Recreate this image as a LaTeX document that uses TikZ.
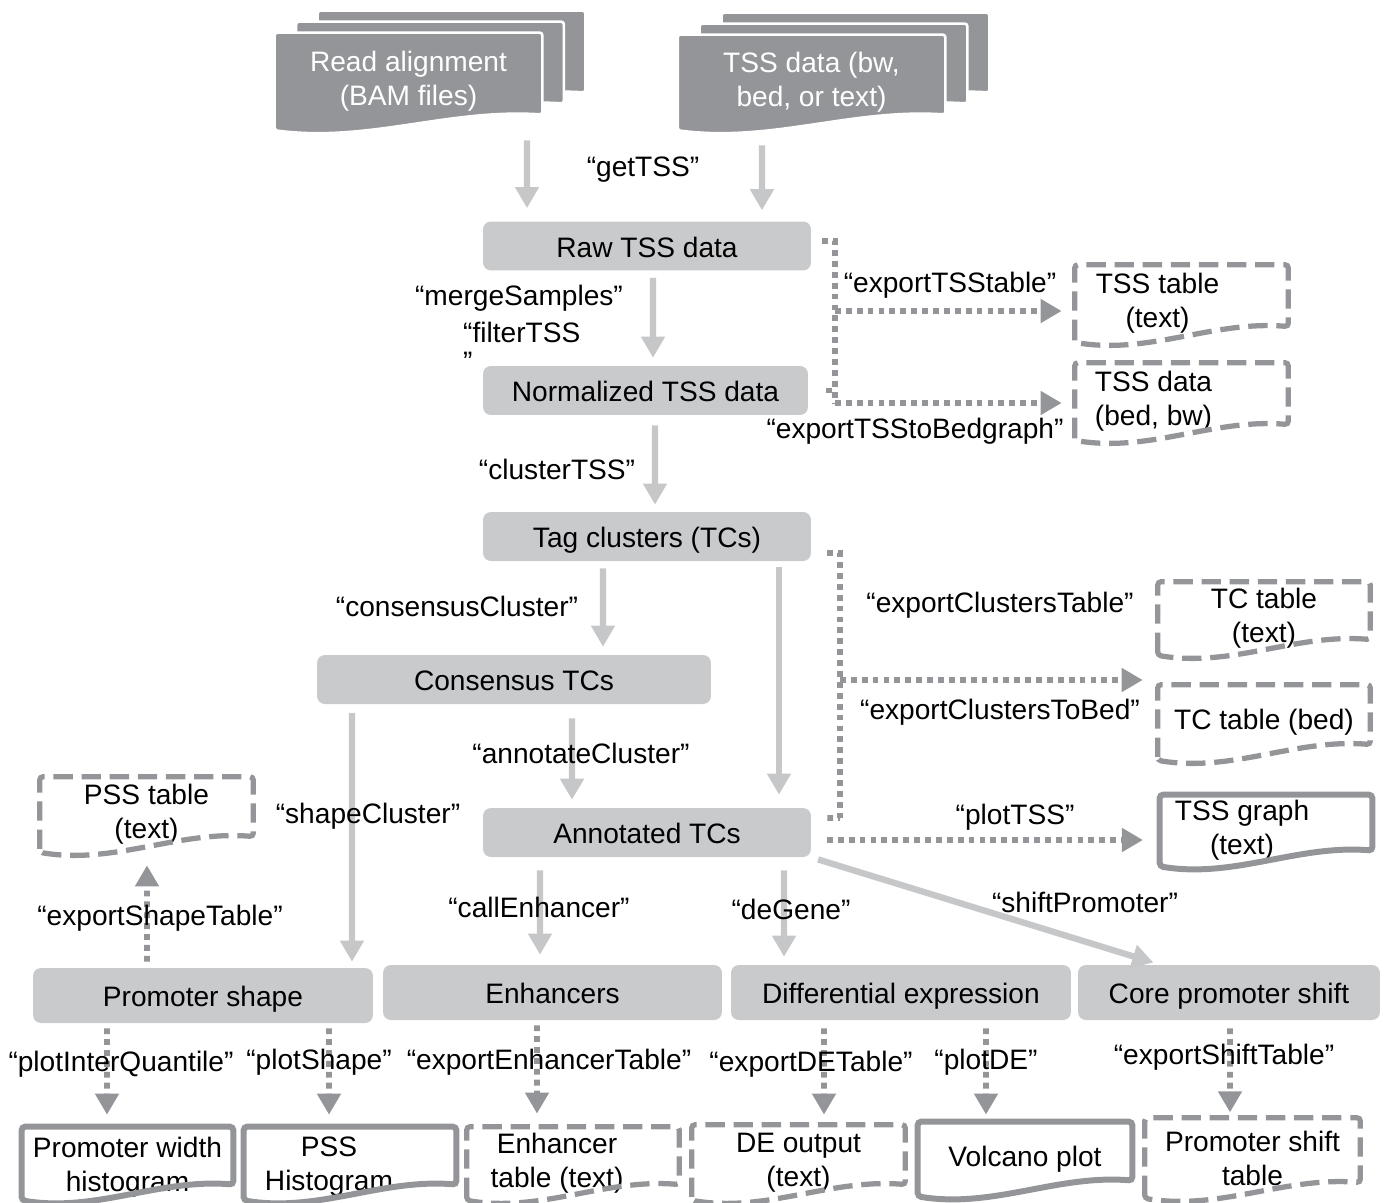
\documentclass[tikz,border=0pt]{standalone}
\usepackage{fontspec}
\setmainfont{Liberation Sans}
\usetikzlibrary{arrows.meta, calc, backgrounds}

\definecolor{pagegray}{HTML}{939598}
\definecolor{boxgray}{HTML}{C9CACC}
\definecolor{arrowgray}{HTML}{C6C7C9}

% document outline with a wavy lower edge, optional shift for stacked pages
\newcommand{\docframe}[3][0pt,0pt]{%
  \draw[#2] ([shift={(#1)}]#3.south west) -- ([shift={(#1)}]#3.north west)
    -- ([shift={(#1)}]#3.north east) -- ([shift={(#1)},yshift=9pt]#3.south east)
    .. controls ($(#3.south west)!0.65!(#3.south east)+(#1)+(0,12.5pt)$)
    and ($(#3.south west)!0.35!(#3.south east)+(#1)+(0,-7pt)$)
    .. ([shift={(#1)}]#3.south west) -- cycle;}

\begin{document}
\begin{tikzpicture}[
  x=0.02cm, y=-0.02cm,
  every node/.style={font=\fontsize{16}{19.3}\selectfont},
  box/.style={fill=boxgray, rounded corners=4.5pt, minimum height=0.98cm, inner sep=0pt,
              text height=16pt, text depth=3.4pt},
  doc/.style={align=center, inner sep=0pt},
  page/.style={fill=pagegray, draw=white, line width=1.5pt, rounded corners=1.5pt},
  framesolid/.style={draw=pagegray, line width=3.4pt, rounded corners=2pt},
  framedash/.style={draw=pagegray, line width=3pt, dash pattern=on 11pt off 5pt, rounded corners=2pt},
  arr/.style={-{Triangle[width=13pt,length=12pt]}, draw=arrowgray, line width=3.6pt},
  dotline/.style={draw=pagegray, line width=3.3pt, dash pattern=on 3.3pt off 2.9pt},
  dotarr/.style={dotline, -{Triangle[width=13pt,length=12pt]}}
]
  \useasboundingbox (0,0) rectangle (1386,1203);

  % input files
  \node[doc, text=white, minimum width=5.34cm, minimum height=1.94cm] (readdoc) at (408.5,81.5)
       {Read alignment\\(BAM files)};
  \node[doc, text=white, minimum width=5.34cm, minimum height=1.9cm] (tssdoc) at (811.5,82.5)
       {TSS data (bw,\\bed, or text)};

  % processing steps
  \node[box, minimum width=6.56cm] (raw)   at (647,246)   {Raw TSS data};
  \node[box, minimum width=6.5cm]  (norm)  at (645.5,390.5) {Normalized TSS data};
  \node[box, minimum width=6.56cm] (tag)   at (647,536.5) {Tag clusters (TCs)};
  \node[box, minimum width=7.88cm] (cons)  at (514,679.5) {Consensus TCs};
  \node[box, minimum width=6.56cm] (annot) at (647,832.5) {Annotated TCs};
  \node[box, minimum width=6.8cm,  minimum height=1.1cm] (prom) at (203,995.5) {Promoter shape};
  \node[box, minimum width=6.78cm, minimum height=1.1cm] (enh)  at (552.5,992.5) {Enhancers};
  \node[box, minimum width=6.8cm,  minimum height=1.1cm] (de)   at (901,992.5) {Differential expression};
  \node[box, minimum width=6.04cm, minimum height=1.1cm] (core) at (1229,992.5) {Core promoter shift};

  % output files (text sits left of centre in some of them)
  \node[doc, minimum width=4.26cm, minimum height=1.54cm,
        label={[align=center, xshift=-0.48cm]center:TSS table\\(text)}] (tsstab) at (1181.5,303.5) {};
  \node[doc, minimum width=4.26cm, minimum height=1.54cm,
        label={[align=center, xshift=-0.56cm]center:TSS data\\(bed, bw)}] (tssbed) at (1181.5,401.5) {};
  \node[doc, minimum width=4.24cm, minimum height=1.46cm] (tctab)    at (1264,618.5) {TC table\\(text)};
  \node[doc, minimum width=4.24cm, minimum height=1.5cm]  (tcbed)    at (1264,722.5) {TC table (bed)};
  \node[doc, minimum width=4.24cm, minimum height=1.42cm,
        label={[align=center, xshift=-0.48cm]center:TSS graph\\(text)}] (tssgraph) at (1266,830.5) {};
  \node[doc, minimum width=4.26cm, minimum height=1.5cm]  (psstab)   at (146.5,814.5) {PSS table\\(text)};
  \node[doc, minimum width=4.22cm, minimum height=1.46cm,
        label={[align=center, yshift=-0.07cm]center:Promoter width\\histogram}] (pwh) at (127.5,1163.5) {};
  \node[doc, minimum width=4.24cm, minimum height=1.46cm,
        label={[align=center, xshift=-0.42cm, yshift=-0.07cm]center:PSS\\Histogram}] (psshist) at (350,1163.5) {};
  \node[doc, minimum width=4.24cm, minimum height=1.46cm,
        label={[align=center, xshift=-0.32cm]center:Enhancer\\table (text)}] (enhtab) at (573,1163.5) {};
  \node[doc, minimum width=4.26cm, minimum height=1.5cm]  (deout)    at (798.5,1162.5) {DE output\\(text)};
  \node[doc, minimum width=4.28cm, minimum height=1.48cm] (volcano)  at (1025,1159) {Volcano plot};
  \node[doc, minimum width=4.3cm,  minimum height=1.6cm]  (shifttab) at (1252.5,1158) {Promoter shift\\table};

  % stacked pages behind the inputs
  \begin{scope}[on background layer]
    \foreach \k in {2,1}{
      \docframe[\k*0.43cm,\k*0.22cm]{page}{readdoc}
      \docframe[\k*0.44cm,\k*0.22cm]{page}{tssdoc}
    }
    \docframe{page}{readdoc}
    \docframe{page}{tssdoc}
  \end{scope}

  \docframe{framedash}{tsstab}
  \docframe{framedash}{tssbed}
  \docframe{framedash}{tctab}
  \docframe{framedash}{tcbed}
  \docframe{framesolid}{tssgraph}
  \docframe{framedash}{psstab}
  \docframe{framesolid}{pwh}
  \docframe{framesolid}{psshist}
  \docframe{framedash}{enhtab}
  \docframe{framedash}{deout}
  \docframe{framesolid}{volcano}
  \docframe{framedash}{shifttab}

  % main flow
  \draw[arr, shorten <=5.7pt, shorten >=7.4pt] ([xshift=2.37cm]readdoc.south) -- ([xshift=-2.4cm]raw.north);
  \draw[arr, shorten <=8.5pt, shorten >=6.2pt] ([xshift=-0.99cm]tssdoc.south) -- ([xshift=2.3cm]raw.north);
  \draw[arr, shorten <=4pt, shorten >=4.5pt] ([xshift=0.12cm]raw.south) -- ([xshift=0.15cm]norm.north);
  \draw[arr, shorten <=5.7pt, shorten >=4pt] ([xshift=0.19cm]norm.south) -- ([xshift=0.16cm]tag.north);
  \draw[arr, shorten <=4pt, shorten >=4.5pt] ([xshift=-0.88cm]tag.south) -- ([xshift=1.78cm]cons.north);
  \draw[arr, shorten <=3.4pt, shorten >=7.4pt] ([xshift=2.64cm]tag.south) -- ([xshift=2.64cm]annot.north);
  \draw[arr, shorten <=8pt, shorten >=4.5pt] ([xshift=1.16cm]cons.south) -- ([xshift=-1.5cm]annot.north);
  \draw[arr, shorten <=5pt, shorten >=3.4pt] ([xshift=-3.24cm]cons.south) -- ([xshift=2.98cm]prom.north);
  \draw[arr, shorten <=7.4pt, shorten >=5.7pt] ([xshift=-2.14cm]annot.south) -- ([xshift=-0.25cm]enh.north);
  \draw[arr, shorten <=7.4pt, shorten >=4.5pt] ([xshift=2.74cm]annot.south) -- ([xshift=-2.34cm]de.north);
  \draw[arr, shorten <=4pt, shorten >=4pt] (annot.south east) -- ([xshift=1.65cm]core.north west);

  % exports of TSS data
  \coordinate (tssfork) at (835,311);
  \coordinate (tssbot)  at (835,403);
  \draw[dotline] ([xshift=0.22cm,yshift=0.1cm]raw.east) -| (tssbot);
  \draw[dotline] ([xshift=0.36cm]norm.east) -- (norm.east -| tssbot);
  \draw[dotarr, shorten >=7.4pt] (tssfork) -- (tssfork -| tsstab.west);
  \draw[dotarr, shorten >=7.4pt] (tssbot) -- (tssbot -| tssbed.west);

  % exports of tag clusters
  \coordinate (tcfork) at (840,680);
  \coordinate (tcbot)  at (840,818);
  \coordinate (plotstart) at (827,840);
  \draw[dotline] ([xshift=0.32cm,yshift=-0.33cm]tag.east) -| (tcbot);
  \draw[dotline] ([xshift=0.32cm,yshift=0.29cm]annot.east) -- (tcbot);
  \draw[dotarr, shorten >=8.5pt] (tcfork) -- (tcfork -| tcbed.west);
  \draw[dotarr, shorten >=9.5pt] (plotstart) -- (plotstart -| tssgraph.west);

  % exports of results
  \draw[dotarr, shorten <=3.4pt, shorten >=7.4pt] ([xshift=-1.12cm]prom.north) -- ([xshift=0.01cm]psstab.south);
  \draw[dotarr, shorten <=2.8pt, shorten >=6.8pt] ([xshift=-1.92cm]prom.south) -- ([xshift=-0.41cm]pwh.north);
  \draw[dotarr, shorten <=2.8pt, shorten >=6.8pt] ([xshift=2.52cm]prom.south) -- ([xshift=-0.42cm]psshist.north);
  \draw[dotarr, shorten <=2.8pt, shorten >=7.4pt] ([xshift=-0.31cm]enh.south) -- ([xshift=-0.72cm]enhtab.north);
  \draw[dotarr, shorten <=4.5pt, shorten >=5.7pt] ([xshift=-1.54cm]de.south) -- ([xshift=0.51cm]deout.north);
  \draw[dotarr, shorten <=4.5pt, shorten >=4pt] ([xshift=1.7cm]de.south) -- ([xshift=-0.78cm]volcano.north);
  \draw[dotarr, shorten <=4.5pt, shorten >=3pt] ([xshift=0.02cm]core.south) -- ([xshift=-0.45cm]shifttab.north);

  % function names
  \node (lgettss)   at (643,170)  {“getTSS”};
  \node (lmerge)    at (519,298)  {“mergeSamples”};
  \node[align=left, anchor=west] (lfilter) at (457,347) {“filterTSS\\[-3pt]”};
  \node (lcluster)  at (557,469)  {“clusterTSS”};
  \node (lconsens)  at (457,606)  {“consensusCluster”};
  \node (lannot)    at (581,753)  {“annotateCluster”};
  \node (lshape)    at (368,816)  {“shapeCluster”};
  \node (lshapetab) at (160,918)  {“exportShapeTable”};
  \node (lenh)      at (539,907)  {“callEnhancer”};
  \node (ldegene)   at (791,909)  {“deGene”};
  \node (lshift)    at (1085,902) {“shiftPromoter”};
  \node (ltsstab)   at (950,285)  {“exportTSStable”};
  \node (ltssbed)   at (915,431)  {“exportTSStoBedgraph”};
  \node (ltctab)    at (1000,605) {“exportClustersTable”};
  \node (ltcbed)    at (1000,712) {“exportClustersToBed”};
  \node (lplottss)  at (1015,817) {“plotTSS”};
  \node (liq)       at (121,1064) {“plotInterQuantile”};
  \node (lplotsh)   at (319,1062) {“plotShape”};
  \node (lenhtab)   at (549,1062) {“exportEnhancerTable”};
  \node (ldetab)    at (811,1064) {“exportDETable”};
  \node (lplotde)   at (986,1062) {“plotDE”};
  \node (lshifttab) at (1224,1057) {“exportShiftTable”};
\end{tikzpicture}
\end{document}
